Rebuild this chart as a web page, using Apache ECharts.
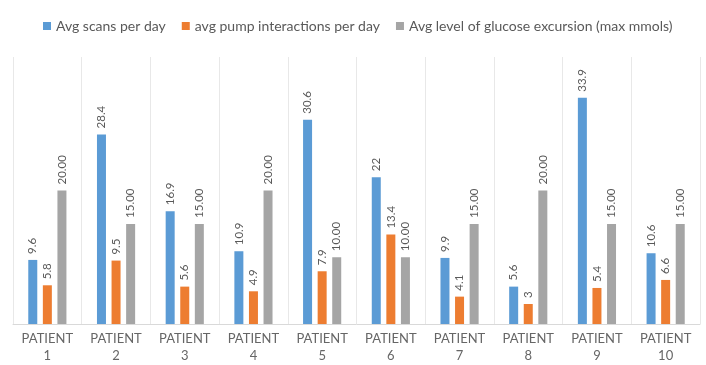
<!DOCTYPE html>
<html><head><meta charset="utf-8">
<script src="https://cdn.jsdelivr.net/npm/echarts@6/dist/echarts.min.js"></script>
<style>html,body{margin:0;padding:0;background:#fff}#c{width:706px;height:365px}</style>
</head><body><div id="c"></div>
<script>
var categories = ['PATIENT\n1','PATIENT\n2','PATIENT\n3','PATIENT\n4','PATIENT\n5','PATIENT\n6','PATIENT\n7','PATIENT\n8','PATIENT\n9','PATIENT\n10'];
var seriesNames = ['Avg scans per day','avg pump interactions per day','Avg level of glucose excursion (max mmols)'];
var scans = [9.6, 28.4, 16.9, 10.9, 30.6, 22, 9.9, 5.6, 33.9, 10.6];
var pump = [5.8, 9.5, 5.6, 4.9, 7.9, 13.4, 4.1, 3, 5.4, 6.6];
var glucose = [20, 15, 15, 20, 10, 10, 15, 20, 15, 15];
var colors = ['#5B9BD5','#ED7D31','#A5A5A5'];

var chart = echarts.init(document.getElementById('c'), null, {renderer:'canvas'});
function lbl(fmt){
  return {show:true, position:'top', rotate:90, align:'left', verticalAlign:'middle', distance:6,
    color:'#595959', fontSize:11.5, fontFamily:'Lato', formatter:fmt};
}
var option = {
  animation:false,
  color: colors,
  textStyle:{fontFamily:'Lato'},
  legend:{top:14, left:38, itemWidth:8, itemHeight:8, itemGap:16, icon:'rect',
    textStyle:{color:'#595959', fontSize:14, fontFamily:'Lato'}},
  grid:{left:13, right:6, top:57, bottom:41, containLabel:false},
  xAxis:{type:'category', data:categories,
    axisLine:{lineStyle:{color:'#D9D9D9'}}, axisTick:{show:false},
    splitLine:{show:true, lineStyle:{color:'#E8E8E8'}},
    axisLabel:{color:'#666666', fontSize:13, fontFamily:'Lato', lineHeight:17, margin:6, interval:0}},
  yAxis:{type:'value', min:0, max:40, show:false, splitLine:{show:false}},
  series:[
    {name:seriesNames[0], type:'bar', data:scans, barWidth:9, barGap:'62%', label:lbl(function(p){return String(p.value);})},
    {name:seriesNames[1], type:'bar', data:pump, barWidth:9, barGap:'62%', label:lbl(function(p){return String(p.value);})},
    {name:seriesNames[2], type:'bar', data:glucose, barWidth:9, barGap:'62%', label:lbl(function(p){return p.value.toFixed(2);})}
  ]
};
chart.setOption(option);
</script></body></html>
